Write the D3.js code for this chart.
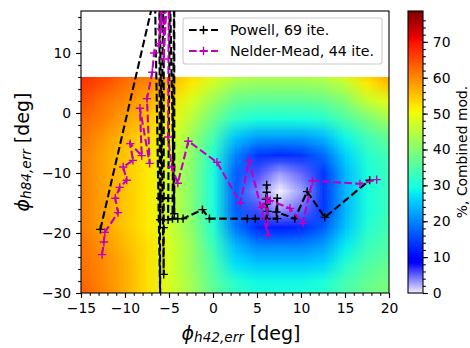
<!DOCTYPE html>
<html>
<head>
<meta charset="utf-8">
<script src="https://cdn.jsdelivr.net/npm/d3@7"></script>
<style>
  body { margin: 0; background: #fff; }
  svg text { font-family: "DejaVu Sans", sans-serif; fill: #000; }
</style>
</head>
<body>
<div id="chart"></div>
<script>
// heatmap cell centres (deg) and values (%, Combined mod.), rows from bottom to top
var gridX = [-15, -12.5, -10, -7.5, -5, -2.5, 0, 2.5, 5, 7.5, 10, 12.5, 15, 17.5, 20];
var gridY = [-31, -28, -25, -22, -19, -16, -13, -10, -7, -4, -1, 2, 5, 8];
var gridValues = [
  [64, 61, 57, 53, 48, 43, 37, 33, 31, 31, 31, 32, 35, 38, 40],
  [63, 60, 57, 53, 48, 43, 36, 31, 29, 29, 29, 30, 34, 37, 39],
  [62, 60, 57, 53, 48, 42, 35, 27, 25, 25, 25, 26, 31, 35, 37],
  [62, 59, 56, 53, 48, 42, 33, 24, 20, 20, 20, 22, 28, 33, 35],
  [61, 58, 55, 52, 47, 41, 31, 19, 13, 12, 13, 17, 25, 31, 34],
  [61, 58, 55, 52, 47, 40, 30, 17, 6, 3, 5, 14, 24, 30, 33],
  [61, 58, 55, 52, 47, 40, 30, 17, 4, 0, 3, 14, 24, 30, 33],
  [61, 58, 55, 52, 47, 40, 30, 17, 6, 3, 5, 14, 24, 30, 33],
  [61, 58, 55, 52, 47, 41, 31, 20, 14, 13, 14, 18, 26, 31, 34],
  [62, 59, 56, 53, 49, 42, 34, 25, 22, 22, 22, 24, 29, 34, 37],
  [63, 61, 58, 55, 51, 45, 38, 32, 30, 30, 30, 31, 35, 39, 43],
  [65, 62, 60, 57, 53, 48, 42, 37, 36, 36, 36, 37, 40, 46, 49],
  [67, 65, 62, 60, 56, 52, 47, 43, 42, 42, 42, 43, 46, 52, 56],
  [69, 67, 65, 63, 59, 55, 51, 48, 47, 47, 47, 48, 51, 57, 60]
];
var heatTop = 6; // map only goes up to 6 deg

// optimiser paths
var powellX = [-12.8, -6.6, -6.0, -6.1, -5.6, -5.6, -5.6, -6.0, -6.0, -5.1, -5.1, -4.9, -4.4, -4.4,
  -4.6, -4.0, -3.4, -1.2, -0.4, 3.9, 4.8, 6.1, 6.1, 6.1, 6.0, 6.1, 6.2, 6.1, 7.3, 7.3, 7.2, 9.3, 10.7, 12.7, 17.8];
var powellY = [-19.4, 19.8, -31, 22, -26.9, -19.1, 23, -17.8, -14.2, -14.2, -17.8, 21, -16.8, 25,
  -17.6, -17.6, -17.6, -16.1, -17.6, -17.6, -17.6, -17.6, -12.0, -13.2, -14.4, -15.2, -16.4, -17.6, -17.6, -14.2, -16.5, -17.6, -13.1, -17.4, -11.2];
var nelderX = [-12.6, -12.4, -12.3, -10.8, -11.1, -10.6, -9.8, -10.2, -9.1, -9.4, -8.1, -8.3, -7.2, -7.5, -6.9, -6.7, -6.1,
  -5.8, -5.9, -5.3, -5.6, -5.0, -5.1, -4.7, -4.0, -2.8, 0.45, 3.1, 4.1, 6.25, 6.1, 5.6, 6.5, 8.75, 10.2, 11.3, 16.7, 18.6];
var nelderY = [-23.6, -21.5, -19.9, -16.6, -14.2, -12.4, -11.2, -9.0, -7.9, -5.1, -7.1, 0.8, -8.4, 2.4, 6.8, 10.0, 11.6,
  24, 14, 30, 9, 26, -4, -9.0, -11.7, -4.7, -8.2, -15.0, -7.9, -20.4, -14.2, -15.7, -14.6, -15.9, -18.4, -11.3, -11.8, -11.1];
var seriesNames = ["Powell, 69 ite.", "Nelder-Mead, 44 ite."];
var seriesColors = ["#000000", "#bf00bf"];

var xTicks = [-15, -10, -5, 0, 5, 10, 15, 20];
var yTicks = [-30, -20, -10, 0, 10];
var cbarTicks = [0, 10, 20, 30, 40, 50, 60, 70];
var xDomain = [-15, 20], yDomain = [-30, 17], cbarDomain = [0, 78.6];

var W = 470, H = 348;
var plot = {left: 81, right: 389, top: 11, bottom: 293};
var cbar = {left: 408, width: 15};

var svg = d3.select("#chart").append("svg")
  .attr("width", W).attr("height", H);

var x = d3.scaleLinear().domain(xDomain).range([plot.left, plot.right]);
var y = d3.scaleLinear().domain(yDomain).range([plot.bottom, plot.top]);
var c = d3.scaleLinear().domain(cbarDomain).range([plot.bottom, plot.top]);

// jet, but the dark blue end fades to white
var jr = d3.scaleLinear().domain([0, .11, .35, .66, .89, 1]).range([.96, 0, 0, 1, 1, .5]).clamp(true);
var jg = d3.scaleLinear().domain([0, .11, .125, .375, .64, .91, 1]).range([.95, 0, 0, 1, 1, 0, 0]).clamp(true);
var jb = d3.scaleLinear().domain([0, .11, .34, .65, 1]).range([1, 1, 1, 0, 0]).clamp(true);
function cmap(v) {
  var t = v / cbarDomain[1];
  return d3.rgb(jr(t) * 255, jg(t) * 255, jb(t) * 255);
}

var defs = svg.append("defs");
defs.append("clipPath").attr("id", "plotClip").append("rect")
  .attr("x", plot.left).attr("y", plot.top)
  .attr("width", plot.right - plot.left).attr("height", plot.bottom - plot.top);
defs.append("clipPath").attr("id", "heatClip").append("rect")
  .attr("x", x(xDomain[0])).attr("y", y(heatTop))
  .attr("width", x(xDomain[1]) - x(xDomain[0])).attr("height", y(yDomain[0]) - y(heatTop));

// heatmap: one pixel per cell, smoothed when the image is stretched
var nx = gridX.length, ny = gridY.length;
var canvas = document.createElement("canvas");
canvas.width = nx; canvas.height = ny;
var ctx = canvas.getContext("2d");
var img = ctx.createImageData(nx, ny);
gridValues.forEach(function(row, i) {
  row.forEach(function(v, j) {
    var col = cmap(v), k = ((ny - 1 - i) * nx + j) * 4;
    img.data[k] = col.r; img.data[k + 1] = col.g; img.data[k + 2] = col.b; img.data[k + 3] = 255;
  });
});
ctx.putImageData(img, 0, 0);
var dx = gridX[1] - gridX[0], dy = gridY[1] - gridY[0];
svg.append("image")
  .attr("href", canvas.toDataURL())
  .attr("x", x(gridX[0] - dx / 2))
  .attr("y", y(gridY[ny - 1] + dy / 2))
  .attr("width", x(gridX[nx - 1] + dx / 2) - x(gridX[0] - dx / 2))
  .attr("height", y(gridY[0] - dy / 2) - y(gridY[ny - 1] + dy / 2))
  .attr("preserveAspectRatio", "none")
  .attr("clip-path", "url(#heatClip)");

// paths with + markers
var line = d3.line().x(function(d) { return x(d[0]); }).y(function(d) { return y(d[1]); });
var plus = "M-4.15,0H4.15M0,-4.15V4.15";
function drawSeries(xs, ys, color) {
  var pts = xs.map(function(v, i) { return [v, ys[i]]; });
  var g = svg.append("g").attr("clip-path", "url(#plotClip)");
  g.append("path")
    .attr("d", line(pts))
    .attr("fill", "none")
    .attr("stroke", color)
    .attr("stroke-width", 2.1)
    .attr("stroke-dasharray", "7.7,3.3");
  g.selectAll(null).data(pts).enter().append("path")
    .attr("transform", function(d) { return "translate(" + x(d[0]) + "," + y(d[1]) + ")"; })
    .attr("d", plus)
    .attr("stroke", color)
    .attr("stroke-width", 1.4);
}
drawSeries(powellX, powellY, seriesColors[0]);
drawSeries(nelderX, nelderY, seriesColors[1]);

// axes
function styleAxis(g) {
  g.select(".domain").remove();
  g.selectAll("line").attr("stroke", "#000").attr("stroke-width", 1.1);
  g.selectAll("text").attr("font-size", 13.9).attr("font-family", "DejaVu Sans");
}
var fmt = d3.format("d");
svg.append("g").attr("transform", "translate(0," + plot.bottom + ")")
  .call(d3.axisBottom(x).tickValues(d3.range(-15, 21, 1)).tickSize(2.8).tickFormat(""))
  .call(styleAxis);
svg.append("g").attr("transform", "translate(0," + plot.bottom + ")")
  .call(d3.axisBottom(x).tickValues(xTicks).tickSize(4.9).tickPadding(4.9).tickFormat(fmt))
  .call(styleAxis);
svg.append("g").attr("transform", "translate(" + plot.left + ",0)")
  .call(d3.axisLeft(y).tickValues(d3.range(-30, 17, 2)).tickSize(2.8).tickFormat(""))
  .call(styleAxis);
svg.append("g").attr("transform", "translate(" + plot.left + ",0)")
  .call(d3.axisLeft(y).tickValues(yTicks).tickSize(4.9).tickPadding(4.9).tickFormat(fmt))
  .call(styleAxis);

svg.append("rect")
  .attr("x", plot.left).attr("y", plot.top)
  .attr("width", plot.right - plot.left).attr("height", plot.bottom - plot.top)
  .attr("fill", "none").attr("stroke", "#000").attr("stroke-width", 1.1);

// axis labels
var xl = svg.append("text")
  .attr("x", (plot.left + plot.right) / 2 + 6).attr("y", 340)
  .attr("text-anchor", "middle").attr("font-size", 19);
xl.append("tspan").attr("font-style", "italic").text("\u03d5");
xl.append("tspan").attr("font-style", "italic").attr("font-size", 13.6).attr("dy", 2).text("h42,err");
xl.append("tspan").attr("dy", -2).text(" [deg]");

var yl = svg.append("text")
  .attr("transform", "translate(29," + (plot.top + plot.bottom) / 2 + ") rotate(-90)")
  .attr("text-anchor", "middle").attr("font-size", 19);
yl.append("tspan").attr("font-style", "italic").text("\u03d5");
yl.append("tspan").attr("font-style", "italic").attr("font-size", 13.6).attr("dy", 2).text("h84,err");
yl.append("tspan").attr("dy", -2).text(" [deg]");

// colorbar
var nSteps = 282, step = cbarDomain[1] / nSteps;
svg.append("g").selectAll("rect")
  .data(d3.range(nSteps).map(function(i) { return i * step; }))
  .enter().append("rect")
  .attr("x", cbar.left).attr("width", cbar.width)
  .attr("y", function(d) { return c(d + step); })
  .attr("height", function(d) { return c(d) - c(d + step) + 0.6; })
  .attr("fill", function(d) { return cmap(d + step / 2); });
svg.append("g").attr("transform", "translate(" + (cbar.left + cbar.width) + ",0)")
  .call(d3.axisRight(c).tickValues(d3.range(0, 78, 2)).tickSize(2.8).tickFormat(""))
  .call(styleAxis);
svg.append("g").attr("transform", "translate(" + (cbar.left + cbar.width) + ",0)")
  .call(d3.axisRight(c).tickValues(cbarTicks).tickSize(4.9).tickPadding(4.9).tickFormat(fmt))
  .call(styleAxis);
svg.append("rect")
  .attr("x", cbar.left).attr("y", plot.top)
  .attr("width", cbar.width).attr("height", plot.bottom - plot.top)
  .attr("fill", "none").attr("stroke", "#000").attr("stroke-width", 1.1);
svg.append("text")
  .attr("transform", "translate(462," + (plot.top + plot.bottom) / 2 + ") rotate(-90)")
  .attr("text-anchor", "middle").attr("dy", "0.35em")
  .attr("font-size", 13.9)
  .text("%, Combined mod.");

// legend
var lg = svg.append("g");
lg.append("rect")
  .attr("x", 183).attr("y", 18).attr("width", 199).attr("height", 46).attr("rx", 2.8)
  .attr("fill", "#fff").attr("fill-opacity", 0.8)
  .attr("stroke", "#ccc").attr("stroke-width", 1.1);
seriesNames.forEach(function(name, i) {
  var yy = 30 + i * 21;
  lg.append("line")
    .attr("x1", 189).attr("x2", 218).attr("y1", yy).attr("y2", yy)
    .attr("stroke", seriesColors[i]).attr("stroke-width", 2.1).attr("stroke-dasharray", "7.7,3.3");
  lg.append("path")
    .attr("transform", "translate(203.5," + yy + ")")
    .attr("d", plus).attr("stroke", seriesColors[i]).attr("stroke-width", 1.4);
  lg.append("text")
    .attr("x", 230).attr("y", yy).attr("dy", "0.35em")
    .attr("font-size", 14.2)
    .text(name);
});
</script>
</body>
</html>
